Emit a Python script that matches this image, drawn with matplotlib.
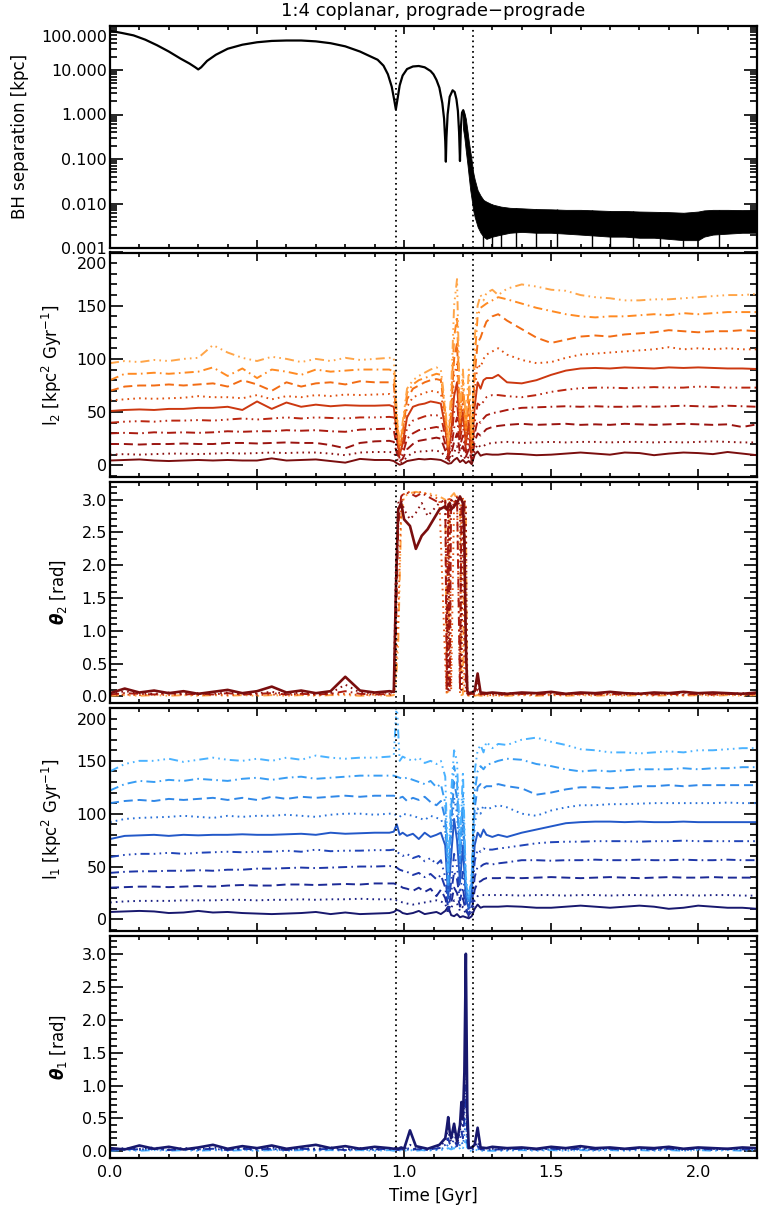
# BH separation, angular momenta and tilt angles of the two discs, 1:4 coplanar prograde-prograde merger

import matplotlib
matplotlib.use('Agg')
import matplotlib.pyplot as plt
import matplotlib.transforms as mtransforms
from matplotlib.ticker import MultipleLocator, FixedLocator, LogLocator, FuncFormatter, NullFormatter

# ---------------- data ----------------
t_pre = [0.00, 0.05, 0.10, 0.15, 0.20, 0.25, 0.30, 0.35, 0.40, 0.45,
         0.50, 0.55, 0.60, 0.65, 0.70, 0.75, 0.80, 0.85, 0.90, 0.95]
t_I_merge = [0.965, 0.975, 0.985, 0.995, 1.01, 1.03, 1.05, 1.07, 1.09, 1.11,
             1.125, 1.14, 1.15, 1.16, 1.17, 1.18, 1.19, 1.20, 1.21, 1.22,
             1.23, 1.24, 1.25, 1.26, 1.27, 1.28, 1.30]
t_I_post = [1.32, 1.35, 1.40, 1.45, 1.50, 1.55, 1.60, 1.65, 1.70, 1.75,
            1.80, 1.85, 1.90, 1.95, 2.00, 2.05, 2.10, 2.15, 2.20]
t_I = t_pre + t_I_merge + t_I_post

t_th_merge = [0.965, 0.972, 0.98, 0.99, 1.00, 1.02, 1.04, 1.06, 1.08, 1.10,
              1.12, 1.14, 1.145, 1.15, 1.155, 1.16, 1.17, 1.18, 1.19, 1.195,
              1.20, 1.205, 1.21, 1.215, 1.22, 1.23, 1.24, 1.25, 1.26, 1.28, 1.30]
t_th_post = [1.35, 1.40, 1.45, 1.50, 1.55, 1.60, 1.65, 1.70, 1.75, 1.80,
             1.85, 1.90, 1.95, 2.00, 2.05, 2.10, 2.15, 2.20]
t_th = t_pre + t_th_merge + t_th_post

# pericentre / coalescence markers [Gyr]
t_marks = [0.972, 1.234]

# BH separation [kpc]
t_sep = [0.0, 0.04, 0.08, 0.12, 0.16, 0.20, 0.24, 0.27, 0.29, 0.30, 0.31, 0.33, 0.36,
         0.40, 0.45, 0.50, 0.55, 0.60, 0.65, 0.70, 0.75, 0.80, 0.85, 0.88, 0.91, 0.93,
         0.945, 0.958, 0.966, 0.972, 0.976, 0.985, 0.995, 1.01, 1.03, 1.05, 1.07, 1.09,
         1.10, 1.11, 1.12, 1.13, 1.136, 1.140, 1.142, 1.144, 1.148, 1.155, 1.165, 1.172,
         1.178, 1.183, 1.187, 1.19, 1.193, 1.197, 1.201, 1.205]
sep = [76, 68, 60, 48, 36, 26, 18, 14, 11.5, 10.3, 11.5, 16, 22,
       30, 37, 42, 45, 46, 46, 44, 40, 34, 26, 21, 17, 12.5,
       8, 4.2, 2.2, 1.3, 1.9, 4.5, 7.5, 10.5, 12, 12.3, 11.5, 9.5,
       8, 6, 4, 1.8, 0.8, 0.25, 0.087, 0.3, 1.0, 2.5, 3.5, 3.2,
       2.2, 1.2, 0.4, 0.09, 0.5, 1.1, 1.25, 0.9]
t_band = [1.20, 1.205, 1.21, 1.215, 1.22, 1.225, 1.23, 1.235, 1.24, 1.25, 1.26, 1.27,
          1.28, 1.30, 1.33, 1.36, 1.40, 1.45, 1.50, 1.55, 1.60, 1.65, 1.70, 1.75, 1.80,
          1.85, 1.90, 1.95, 2.00, 2.02, 2.05, 2.10, 2.15, 2.20]
band_hi = [1.3, 1.1, 0.8, 0.45, 0.25, 0.15, 0.09, 0.05, 0.035, 0.02, 0.015, 0.012,
           0.011, 0.0095, 0.0085, 0.008, 0.0078, 0.0075, 0.0074, 0.0072, 0.0072, 0.007,
           0.0068, 0.0068, 0.0066, 0.0065, 0.0064, 0.0062, 0.0066, 0.007, 0.0072, 0.0072,
           0.0071, 0.0072]
band_lo = [0.5, 0.3, 0.15, 0.08, 0.04, 0.02, 0.012, 0.007, 0.005, 0.003, 0.0022, 0.0018,
           0.0016, 0.0018, 0.002, 0.0022, 0.0023, 0.0022, 0.0022, 0.0021, 0.002, 0.0019,
           0.0018, 0.0018, 0.0017, 0.0017, 0.0016, 0.0015, 0.0015, 0.0018, 0.002, 0.0021,
           0.0022, 0.0022]
spike_t = [1.27, 1.30, 1.33, 1.38, 1.45, 1.52, 1.64, 1.70, 1.78, 1.87, 1.95, 2.07]
spike_top = [0.012, 0.0095, 0.0085, 0.008, 0.0075, 0.0074, 0.0072, 0.0068, 0.0067,
             0.0065, 0.0062, 0.0072]

# l_2 [kpc^2 Gyr^-1], satellite disc, 10 radial bins (inner -> outer)
l2_1 = [4.5, 5, 5.5, 4.5, 4, 4.5, 5, 4.5, 5, 4.5, 4.5, 6.5, 4.5, 5, 5.5, 4, 2.5, 6, 5, 5] + \
       [4, 2, 0.5, 1.5, 4, 5, 6, 5.5, 6, 5.5, 5, 3, 1.5, 2, 5, 7, 3, 5, 2, 4, 1, 10, 13, 9, 10, 10.5, 10] + \
       [10, 11, 10.5, 9.5, 10, 11, 12, 11, 10, 12, 11.5, 9.5, 11, 12, 11.5, 10.5, 12.5, 11, 9.5]
l2_2 = [10, 10.5, 10, 10.5, 11, 11, 10.5, 11, 11.5, 11, 11.5, 12, 11.5, 12, 12, 11, 9.5, 12, 12.5, 12.5] + \
       [12, 6, 2, 3, 8, 12, 13, 13, 14, 13.5, 13, 8, 3, 6, 12, 18, 8, 10, 5, 8, 3, 14, 20, 17, 18, 20, 21] + \
       [21.5, 22, 21, 21.5, 22, 21.5, 22, 22, 21.5, 22, 22, 21.5, 22, 21.5, 22, 22.5, 22, 21.5, 21.5]
l2_3 = [20, 20, 19.5, 20, 20, 20.5, 20, 20, 21, 21, 20.5, 21, 21.5, 21, 21, 19, 16, 21, 22.5, 23] + \
       [22, 12, 4, 6, 15, 20, 23, 24, 25, 26, 25, 14, 5, 10, 22, 30, 12, 18, 8, 15, 5, 22, 30, 28, 31, 34, 36] + \
       [37, 38, 39, 38, 38.5, 39, 38, 38.5, 38, 39, 38.5, 38, 38.5, 39, 38.5, 38, 38.5, 36, 38.5]
l2_4 = [30, 30.5, 30, 31, 30.5, 31, 30.5, 31, 32, 31.5, 32, 32, 33, 32.5, 33, 32, 31.5, 33.5, 34, 34.5] + \
       [33, 18, 6, 10, 25, 30, 33, 34, 35, 36, 35, 20, 8, 15, 35, 45, 18, 28, 12, 22, 8, 30, 42, 40, 44, 47, 49] + \
       [50, 52, 54, 54.5, 55, 55.5, 55, 55.5, 55, 55, 55.5, 55, 55.5, 56, 55.5, 55, 56, 55.5, 55]
l2_5 = [40, 41, 41.5, 41, 42, 42, 42.5, 42, 43, 44, 43, 44, 45, 44, 45, 44.5, 44, 45, 45, 45.5] + \
       [45, 25, 8, 15, 35, 42, 44, 46, 47, 47, 46, 28, 10, 22, 50, 60, 25, 38, 15, 30, 10, 40, 58, 56, 60, 64, 66] + \
       [66, 65, 64, 66, 69, 71, 72.5, 73, 73, 72.5, 73, 73.5, 73, 73, 74, 73.5, 73, 73, 73]
l2_6 = [51, 52, 52.5, 52, 53, 53, 54, 54, 55, 52, 60, 53, 59, 55, 57, 55.5, 56.5, 56, 56, 56.5] + \
       [55, 30, 10, 20, 45, 55, 57, 58, 60, 59, 58, 35, 12, 30, 65, 78, 30, 50, 20, 40, 12, 55, 78, 72, 80, 82, 82] + \
       [85, 78, 77, 80, 85, 89, 91, 91.5, 91, 92, 91.5, 91, 92, 91.5, 92, 91.5, 91, 91, 90.5]
l2_7 = [61, 62, 63, 62.5, 63, 63.5, 65, 64, 64, 63, 66, 62, 65, 64, 66, 65, 66.5, 66, 66.5, 67] + \
       [65, 35, 12, 25, 55, 64, 66, 68, 70, 69, 68, 40, 15, 40, 85, 95, 35, 60, 25, 50, 15, 70, 95, 92, 100, 104, 107] + \
       [110, 104, 99, 96, 97, 101, 104, 105, 106, 107, 108, 109, 111, 109, 110, 109, 110, 109, 109]
l2_8 = [70, 74, 75, 75, 76, 75, 76, 77, 74, 80, 76, 70, 78, 74, 77, 78, 76, 79, 78, 78] + \
       [76, 40, 15, 30, 62, 72, 75, 78, 80, 81, 80, 45, 18, 50, 100, 115, 40, 70, 30, 60, 18, 85, 115, 120, 128, 135, 140] + \
       [142, 136, 128, 120, 115, 118, 121, 122, 121, 123, 124, 125, 127, 126, 125, 126, 126, 127, 126]
l2_9 = [80, 86, 86, 87, 86, 87, 88, 92, 84, 91, 82, 90, 88, 85, 90, 88, 89, 90, 90, 90] + \
       [88, 45, 18, 35, 68, 76, 80, 82, 84, 86, 85, 50, 20, 60, 120, 140, 45, 80, 35, 75, 22, 100, 140, 148, 150, 152, 155] + \
       [158, 156, 152, 148, 145, 142, 140, 139, 140, 140, 141, 142, 141, 143, 142, 143, 144, 144, 144]
l2_10 = [96, 98, 97, 99, 98, 100, 101, 113, 106, 101, 98, 102, 100, 97, 100, 98, 101, 99, 100, 101] + \
        [101, 50, 20, 40, 72, 80, 84, 87, 90, 92, 90, 55, 22, 70, 150, 175, 50, 90, 40, 90, 25, 120, 150, 160, 155, 162, 165] + \
        [160, 166, 170, 168, 165, 164, 160, 158, 157, 155, 155, 156, 156, 157, 158, 159, 160, 160, 161]

# l_1 [kpc^2 Gyr^-1], primary disc
l1_1 = [7, 7.5, 8, 7.5, 6, 6.5, 8, 6.5, 7, 6, 5.5, 5, 5.5, 6, 7, 5, 6.5, 5, 5.5, 6] + \
       [7, 9, 8, 6, 5, 6, 8, 5, 6, 7, 5, 8, 12, 4, 3, 5, 2, 3, 2, 1, 3, 10, 14, 11, 12, 12, 12] + \
       [12, 12.5, 12, 11, 11, 12, 13, 12, 11, 12, 13, 12, 10, 11, 13, 12, 11, 11, 10]
l1_2 = [16, 17, 17.5, 17.5, 17.5, 18, 18, 18, 18.5, 18.5, 18, 18.5, 18.5, 19, 18.5, 19, 19, 19.5, 19, 19] + \
       [19, 18, 17, 16, 15, 14, 15, 16, 17, 18, 17, 15, 5, 10, 18, 15, 8, 12, 5, 3, 5, 18, 22, 23, 23, 23, 23] + \
       [23, 23, 22.5, 23, 23, 22.5, 23, 23, 22.5, 23, 23, 22.5, 23, 23, 22.5, 23, 23, 22.5, 22.5]
l1_3 = [30, 30.5, 31, 31, 30.5, 31, 31.5, 31, 32, 32.5, 32, 32, 33, 33, 32.5, 33, 33.5, 33, 34, 34] + \
       [34, 33, 32, 30, 29, 27, 30, 26, 29, 22, 28, 20, 8, 15, 30, 25, 12, 20, 8, 4, 8, 28, 35, 36, 38, 39, 39] + \
       [39, 39.5, 39, 39.5, 40, 39.5, 39, 39.5, 40, 39.5, 39, 39.5, 40, 39.5, 39.5, 40, 39.5, 39.5, 39.5]
l1_4 = [44, 45, 45.5, 45.5, 46, 46, 46.5, 46, 47, 47, 48, 48, 48.5, 49, 48.5, 49, 49.5, 50, 50, 50.5] + \
       [50, 49, 47, 46, 45, 42, 44, 40, 43, 38, 42, 30, 10, 25, 45, 38, 18, 30, 10, 5, 12, 40, 50, 50, 52, 53, 52] + \
       [53, 54, 56, 56, 55.5, 56, 56, 56.5, 56, 56, 56.5, 56, 56, 56.5, 56, 56, 56.5, 56, 56]
l1_5 = [59, 61, 62, 62, 63, 62, 63, 63.5, 64, 63.5, 64, 64, 65, 64, 66, 64.5, 65, 65, 65.5, 65.5] + \
       [66, 64, 62, 60, 62, 58, 60, 55, 58, 52, 56, 40, 15, 35, 62, 50, 25, 45, 15, 8, 18, 55, 66, 64, 67, 66, 66] + \
       [67, 68, 70, 72, 73, 73.5, 73.5, 74, 74, 74, 73.5, 74, 74, 74.5, 74, 74, 74, 74, 74]
l1_6 = [76, 79, 79.5, 80, 79, 80, 79.5, 80, 80, 80.5, 80, 80, 80.5, 81, 80, 82, 81, 81.5, 82, 82] + \
       [83, 90, 80, 82, 79, 81, 76, 82, 78, 80, 82, 70, 20, 60, 95, 75, 35, 70, 20, 10, 25, 70, 82, 78, 85, 80, 78] + \
       [80, 78, 82, 85, 88, 91, 92, 92.5, 92.5, 92, 92.5, 92, 92, 92.5, 92, 92, 92, 92, 92]
l1_7 = [92, 95, 96, 96.5, 97, 98, 97, 96, 98, 97, 98, 98, 99, 98, 97, 99, 100, 100, 99, 100] + \
       [100, 98, 97, 100, 99, 98, 96, 94, 98, 96, 95, 85, 25, 80, 115, 100, 45, 90, 25, 12, 30, 90, 105, 100, 108, 104, 106] + \
       [108, 106, 100, 98, 103, 106, 108, 108, 109, 109, 109.5, 110, 110, 110, 110, 110, 110.5, 110, 110]
l1_8 = [110, 112, 113, 112, 114, 113, 114, 115, 113, 115, 113, 116, 114, 116, 115, 116, 117, 116, 117, 117] + \
       [117, 116, 115, 116, 112, 115, 113, 116, 111, 108, 112, 95, 30, 90, 130, 115, 55, 105, 30, 15, 35, 105, 125, 128, 124, 126, 126] + \
       [128, 126, 124, 118, 120, 123, 125, 125, 124, 125, 126, 126, 127, 126, 127, 127, 127, 127, 127]
l1_9 = [122, 128, 131, 130, 132, 131, 133, 132, 131, 133, 134, 132, 134, 135, 133, 134, 135, 136, 136, 136] + \
       [136, 135, 134, 133, 134, 132, 130, 128, 131, 125, 128, 110, 35, 105, 145, 130, 60, 120, 35, 18, 40, 120, 140, 145, 142, 146, 148] + \
       [150, 152, 151, 147, 145, 142, 140, 141, 140, 141, 142, 142, 142, 143, 142, 143, 143, 144, 144]
l1_10 = [140, 147, 150, 150, 152, 149, 151, 153, 151, 150, 152, 150, 153, 151, 155, 153, 152, 153, 153, 154] + \
        [155, 205, 150, 154, 152, 150, 153, 148, 150, 147, 150, 135, 45, 120, 160, 150, 70, 140, 40, 20, 45, 140, 160, 165, 158, 168, 162] + \
        [166, 165, 170, 172, 168, 165, 161, 160, 158, 158, 157, 158, 159, 158, 160, 160, 161, 162, 162]

# theta_2 [rad], bins 1, 2, 4, 7, 10
th2_1 = [0.05, 0.12, 0.06, 0.09, 0.05, 0.08, 0.04, 0.07, 0.10, 0.05, 0.08, 0.15, 0.06, 0.09, 0.05, 0.08, 0.30, 0.09, 0.06, 0.08] + \
        [0.07, 1.6, 2.85, 2.95, 2.7, 2.6, 2.25, 2.45, 2.55, 2.7, 2.85, 2.9, 2.85, 2.9, 2.95, 2.85, 2.9, 2.95, 3.05, 3.0,
         2.95, 2.4, 0.8, 0.08, 0.05, 0.06, 0.08, 0.35, 0.06, 0.05, 0.06] + \
        [0.04, 0.06, 0.05, 0.07, 0.04, 0.06, 0.05, 0.07, 0.05, 0.04, 0.06, 0.05, 0.07, 0.05, 0.06, 0.05, 0.04, 0.06]
th2_2 = [0.03, 0.08, 0.05, 0.04, 0.06, 0.04, 0.05, 0.04, 0.06, 0.04, 0.05, 0.07, 0.04, 0.06, 0.04, 0.05, 0.18, 0.06, 0.05, 0.06] + \
        [0.06, 2.0, 2.95, 3.0, 2.85, 2.7, 2.8, 2.95, 2.75, 2.85, 2.95, 3.0, 1.5, 0.1, 2.9, 3.0, 2.95, 3.0, 2.9, 0.1,
         2.95, 3.0, 2.9, 0.05, 0.04, 0.05, 0.04, 0.2, 0.04, 0.05, 0.04] + \
        [0.05, 0.04, 0.05, 0.06, 0.04, 0.05, 0.04, 0.06, 0.04, 0.05, 0.05, 0.04, 0.06, 0.04, 0.05, 0.04, 0.05, 0.04]
th2_4 = [0.03, 0.05, 0.04, 0.03, 0.05, 0.03, 0.04, 0.03, 0.05, 0.03, 0.04, 0.05, 0.03, 0.04, 0.03, 0.04, 0.08, 0.04, 0.03, 0.04] + \
        [0.05, 0.9, 2.6, 3.05, 3.1, 3.1, 3.05, 3.1, 3.05, 3.0, 2.95, 3.0, 0.1, 2.95, 0.08, 3.0, 2.9, 3.05, 0.1, 2.9,
         3.0, 2.95, 0.1, 0.04, 0.03, 0.04, 0.03, 0.1, 0.03, 0.04, 0.03] + \
        [0.03, 0.04, 0.03, 0.04, 0.03, 0.04, 0.03, 0.04, 0.03, 0.04, 0.03, 0.04, 0.03, 0.04, 0.03, 0.04, 0.03, 0.04]
th2_7 = [0.02, 0.03, 0.02, 0.03, 0.02, 0.03, 0.02, 0.03, 0.02, 0.03, 0.02, 0.03, 0.02, 0.03, 0.02, 0.03, 0.04, 0.02, 0.03, 0.02] + \
        [0.03, 0.4, 1.2, 2.9, 3.1, 3.12, 3.1, 3.12, 3.08, 3.05, 3.0, 0.5, 0.05, 3.0, 3.05, 0.1, 3.0, 3.05, 0.05, 3.0,
         3.05, 0.1, 0.03, 0.02, 0.02, 0.02, 0.02, 0.05, 0.02, 0.02, 0.02] + \
        [0.02, 0.03, 0.02, 0.03, 0.02, 0.03, 0.02, 0.03, 0.02, 0.03, 0.02, 0.03, 0.02, 0.03, 0.02, 0.03, 0.02, 0.03]
th2_10 = [0.01, 0.02, 0.01, 0.02, 0.01, 0.02, 0.01, 0.02, 0.01, 0.02, 0.01, 0.02, 0.01, 0.02, 0.01, 0.02, 0.02, 0.01, 0.02, 0.01] + \
         [0.02, 0.2, 0.8, 2.7, 3.05, 3.1, 3.12, 3.1, 3.1, 3.08, 3.05, 3.0, 0.03, 0.03, 3.0, 3.05, 3.1, 3.0, 3.05, 0.02,
          0.03, 3.0, 2.9, 0.02, 0.01, 0.01, 0.01, 0.02, 0.01, 0.01, 0.01] + \
         [0.01, 0.02, 0.01, 0.02, 0.01, 0.02, 0.01, 0.02, 0.01, 0.02, 0.01, 0.02, 0.01, 0.02, 0.01, 0.02, 0.01, 0.02]

# theta_1 [rad], bins 1, 2, 4, 7, 10
th1_1 = [0.05, 0.03, 0.09, 0.04, 0.07, 0.03, 0.06, 0.10, 0.04, 0.08, 0.05, 0.09, 0.04, 0.07, 0.10, 0.05, 0.08, 0.04, 0.07, 0.05] + \
        [0.04, 0.05, 0.04, 0.06, 0.04, 0.32, 0.08, 0.06, 0.04, 0.07, 0.10, 0.2, 0.35, 0.52, 0.3, 0.2, 0.42, 0.15, 0.4, 0.75,
         0.5, 1.2, 3.0, 0.6, 0.05, 0.06, 0.1, 0.36, 0.06, 0.05, 0.07] + \
        [0.05, 0.06, 0.04, 0.07, 0.05, 0.08, 0.05, 0.06, 0.04, 0.06, 0.05, 0.07, 0.04, 0.06, 0.05, 0.04, 0.06, 0.05]
th1_2 = [0.03, 0.05, 0.04, 0.06, 0.03, 0.05, 0.04, 0.06, 0.03, 0.05, 0.04, 0.06, 0.03, 0.05, 0.04, 0.06, 0.03, 0.05, 0.04, 0.05] + \
        [0.03, 0.04, 0.03, 0.05, 0.03, 0.1, 0.04, 0.05, 0.03, 0.06, 0.08, 0.15, 0.25, 0.35, 0.2, 0.15, 0.3, 0.1, 0.3, 0.5,
         0.35, 0.8, 2.0, 0.3, 0.04, 0.05, 0.06, 0.15, 0.04, 0.05, 0.04] + \
        [0.04, 0.05, 0.03, 0.05, 0.04, 0.06, 0.04, 0.05, 0.03, 0.05, 0.04, 0.05, 0.03, 0.05, 0.04, 0.03, 0.05, 0.04]
th1_4 = [0.02, 0.04, 0.03, 0.04, 0.02, 0.04, 0.03, 0.04, 0.02, 0.04, 0.03, 0.04, 0.02, 0.04, 0.03, 0.04, 0.02, 0.04, 0.03, 0.04] + \
        [0.03, 0.03, 0.02, 0.04, 0.03, 0.05, 0.03, 0.04, 0.02, 0.04, 0.05, 0.1, 0.15, 0.2, 0.12, 0.1, 0.18, 0.08, 0.2, 0.3,
         0.2, 0.5, 1.0, 0.15, 0.03, 0.03, 0.04, 0.08, 0.03, 0.03, 0.03] + \
        [0.03, 0.04, 0.03, 0.04, 0.03, 0.04, 0.03, 0.04, 0.03, 0.04, 0.03, 0.04, 0.03, 0.04, 0.03, 0.04, 0.03, 0.04]
th1_7 = [0.02, 0.03, 0.02, 0.03, 0.02, 0.03, 0.02, 0.03, 0.02, 0.03, 0.02, 0.03, 0.02, 0.03, 0.02, 0.03, 0.02, 0.03, 0.02, 0.03] + \
        [0.02, 0.02, 0.02, 0.03, 0.02, 0.03, 0.02, 0.03, 0.02, 0.03, 0.03, 0.06, 0.08, 0.1, 0.07, 0.06, 0.1, 0.05, 0.1, 0.15,
         0.1, 0.25, 0.5, 0.08, 0.02, 0.02, 0.03, 0.04, 0.02, 0.02, 0.02] + \
        [0.02, 0.03, 0.02, 0.03, 0.02, 0.03, 0.02, 0.03, 0.02, 0.03, 0.02, 0.03, 0.02, 0.03, 0.02, 0.03, 0.02, 0.03]
th1_10 = [0.01, 0.02, 0.01, 0.02, 0.01, 0.02, 0.01, 0.02, 0.01, 0.02, 0.01, 0.02, 0.01, 0.02, 0.01, 0.02, 0.01, 0.02, 0.01, 0.02] + \
         [0.01, 0.01, 0.01, 0.02, 0.01, 0.02, 0.01, 0.02, 0.01, 0.02, 0.02, 0.03, 0.04, 0.05, 0.04, 0.03, 0.05, 0.03, 0.05, 0.08,
          0.05, 0.1, 0.2, 0.04, 0.01, 0.01, 0.02, 0.02, 0.01, 0.01, 0.01] + \
         [0.01, 0.02, 0.01, 0.02, 0.01, 0.02, 0.01, 0.02, 0.01, 0.02, 0.01, 0.02, 0.01, 0.02, 0.01, 0.02, 0.01, 0.02]

l2_lines = [l2_1, l2_2, l2_3, l2_4, l2_5, l2_6, l2_7, l2_8, l2_9, l2_10]
l1_lines = [l1_1, l1_2, l1_3, l1_4, l1_5, l1_6, l1_7, l1_8, l1_9, l1_10]
th2_lines = [th2_1, th2_2, th2_4, th2_7, th2_10]
th1_lines = [th1_1, th1_2, th1_4, th1_7, th1_10]
th_bins = [0, 1, 3, 6, 9]

# ---------------- style ----------------
reds = ['#7a0e0e', '#8a1010', '#9a1410', '#aa1b10', '#ba2610', '#cc3810',
        '#e0500f', '#f26c14', '#ff8a22', '#ffa548']
blues = ['#18186e', '#1a2084', '#1c2a96', '#1e36a8', '#2044b8', '#2258c8',
         '#2870d8', '#3088e8', '#389df4', '#4ab2ff']
dot = (0, (1.2, 3))
dash = (0, (6.5, 3.5))
dashdot = (0, (6.5, 3, 1.2, 3))
dashdot3 = (0, (6.5, 3, 1.2, 3, 1.2, 3, 1.2, 3))
styles = ['-', dot, dash, dashdot, dashdot3, '-', dot, dash, dashdot, dashdot3]

plt.rcParams['font.family'] = 'DejaVu Sans'
plt.rcParams['lines.scale_dashes'] = False
fs = 11.5

fig = plt.figure(figsize=(7.6, 12.12), dpi=100)
W, H = 760.0, 1212.0


def panel(top, bottom):
    return fig.add_axes([110 / W, 1 - bottom / H, 647 / W, (bottom - top) / H])


def style(ax, last=False):
    ax.set_xlim(0, 2.2)
    ax.xaxis.set_major_locator(MultipleLocator(0.5))
    ax.xaxis.set_minor_locator(MultipleLocator(0.1))
    ax.tick_params(which='both', direction='in', top=True, right=True, width=1.2, labelsize=fs)
    ax.tick_params(axis='x', which='major', length=6, pad=5)
    ax.tick_params(axis='x', which='minor', length=3)
    ax.tick_params(axis='y', which='major', length=9.5, pad=2)
    ax.tick_params(axis='y', which='minor', length=4.8)
    for s in ax.spines.values():
        s.set_linewidth(1.6)
    for tm in t_marks:
        ax.axvline(tm, color='k', ls=(0, (1.2, 2.6)), lw=1.3, zorder=5)
    if not last:
        ax.tick_params(labelbottom=False)


ax1 = panel(25.5, 248)
ax2 = panel(252.5, 477)
ax3 = panel(482, 703)
ax4 = panel(708, 931)
ax5 = panel(936, 1158)

# BH separation
ax1.plot(t_sep, sep, color='k', lw=1.6)
ax1.fill_between(t_band, band_lo, band_hi, color='k', lw=0.6)
ax1.vlines(spike_t, 0.001, spike_top, color='k', lw=1.0)
ax1.set_yscale('log')
ax1.set_ylim(0.001, 100)
ax1.yaxis.set_major_locator(FixedLocator([0.001, 0.01, 0.1, 1, 10, 100]))
ax1.yaxis.set_major_formatter(FuncFormatter(lambda v, p: '%.3f' % v))
ax1.yaxis.set_minor_locator(LogLocator(base=10, subs=(2, 3, 4, 5, 6, 7, 8, 9), numticks=20))
ax1.yaxis.set_minor_formatter(NullFormatter())
ax1.set_ylabel('BH separation [kpc]', fontsize=fs + 0.5, labelpad=9)
style(ax1)

# angular momenta
for ax, lines, cols, lab in [(ax2, l2_lines, reds, r'l$_2$ [kpc$^2$ Gyr$^{-1}$]'),
                             (ax4, l1_lines, blues, r'l$_1$ [kpc$^2$ Gyr$^{-1}$]')]:
    for k in range(10):
        ax.plot(t_I, lines[k], color=cols[k], ls=styles[k], lw=1.4)
    ax.set_ylim(-11, 200)
    ax.yaxis.set_major_locator(FixedLocator([0, 50, 100, 150, 200]))
    ax.yaxis.set_minor_locator(MultipleLocator(10))
    ax.set_ylabel(lab, fontsize=fs + 0.5, labelpad=9)
    style(ax)

# tilt angles, outer (light) first so the inner bins sit on top
for ax, lines, cols, lab in [(ax3, th2_lines, reds, r'$\mathbfit{\theta}_2$ [rad]'),
                             (ax5, th1_lines, blues, r'$\mathbfit{\theta}_1$ [rad]')]:
    for j in range(4, -1, -1):
        k = th_bins[j]
        ax.plot(t_th, lines[j], color=cols[k], ls=styles[k], lw=1.9 if k == 0 else 1.4)
    ax.set_ylim(-0.1, 3.27)
    ax.yaxis.set_major_locator(MultipleLocator(0.5))
    ax.yaxis.set_minor_locator(MultipleLocator(0.1))
    ax.yaxis.set_major_formatter(FuncFormatter(lambda v, p: '%.1f' % v))
    ax.set_ylabel(lab, fontsize=fs + 0.5, labelpad=9)
    style(ax, last=(ax is ax5))

ax5.xaxis.set_major_formatter(FuncFormatter(lambda v, p: '%.1f' % v))
ax5.set_xlabel('Time [Gyr]', fontsize=fs + 0.5, labelpad=5)

fig.text(433.5 / W, 1 - 11 / H, '1:4 coplanar, prograde\u2212prograde',
         ha='center', va='center', fontsize=fs + 1.5)

# top tick labels sit below the axis top, as in the original
fig.canvas.draw()
shift = mtransforms.ScaledTranslation(0, -11 / 100.0, fig.dpi_scale_trans)
for ax in [ax1, ax2, ax4]:
    lab = ax.get_yticklabels()[-1]
    lab.set_transform(lab.get_transform() + shift)

fig.savefig('out.png', dpi=100)
